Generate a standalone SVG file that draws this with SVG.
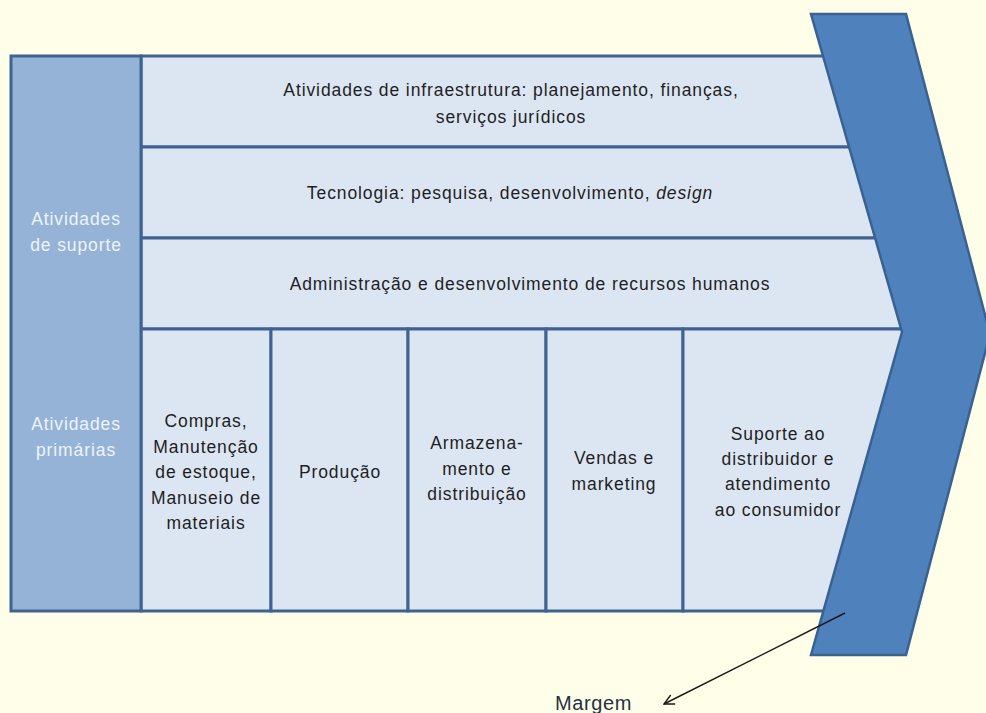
<svg xmlns="http://www.w3.org/2000/svg" width="986" height="713" viewBox="0 0 986 713">
<defs>
<style>
.cell{fill:#dce6f2;stroke:#3e6391;stroke-width:3}
.side{fill:#95b3d7;stroke:#3e6391;stroke-width:3}
.t{font-family:"Liberation Sans",Arial,sans-serif;font-size:17.5px;fill:#1e1e24;text-anchor:middle;letter-spacing:0.9px}
.w{fill:#eef3fa}
.conn{stroke:#1a1a1a;stroke-width:1.4;fill:none}
</style>
<clipPath id="body">
<polygon points="0,0 807,0 902,332 795,713 0,713"/>
</clipPath>
<marker id="arr" viewBox="0 0 12 12" refX="11" refY="6" markerWidth="12" markerHeight="12" markerUnits="userSpaceOnUse" orient="auto">
<path d="M1,1 L11,6 L1,11" fill="none" stroke="#1a1a1a" stroke-width="1.4"/>
</marker>
</defs>
<rect width="986" height="713" fill="#fffee9"/>
<g clip-path="url(#body)">
<g id="suporte-infra">
<rect class="cell" x="141" y="56" width="780" height="91"/>
<text class="t" x="511" y="96">Atividades de infraestrutura: planejamento, finanças,</text>
<text class="t" x="511" y="123">serviços jurídicos</text>
</g>
<g id="suporte-tecnologia">
<rect class="cell" x="141" y="147" width="780" height="91"/>
<text class="t" x="510" y="199">Tecnologia: pesquisa, desenvolvimento, <tspan font-style="italic">design</tspan></text>
</g>
<g id="suporte-rh">
<rect class="cell" x="141" y="238" width="780" height="91"/>
<text class="t" x="530" y="290">Administração e desenvolvimento de recursos humanos</text>
</g>
<g id="primaria-compras">
<rect class="cell" x="141" y="329" width="130" height="282"/>
<text class="t" x="206" y="427">Compras,</text>
<text class="t" x="206" y="453">Manutenção</text>
<text class="t" x="206" y="478">de estoque,</text>
<text class="t" x="206" y="504">Manuseio de</text>
<text class="t" x="206" y="529">materiais</text>
</g>
<g id="primaria-producao">
<rect class="cell" x="271" y="329" width="137" height="282"/>
<text class="t" x="340" y="478">Produção</text>
</g>
<g id="primaria-armazenamento">
<rect class="cell" x="408" y="329" width="138" height="282"/>
<text class="t" x="477" y="449">Armazena-</text>
<text class="t" x="477" y="475">mento e</text>
<text class="t" x="477" y="500">distribuição</text>
</g>
<g id="primaria-vendas">
<rect class="cell" x="546" y="329" width="137" height="282"/>
<text class="t" x="614" y="464">Vendas e</text>
<text class="t" x="614" y="490">marketing</text>
</g>
<g id="primaria-suporte">
<rect class="cell" x="683" y="329" width="240" height="282"/>
<text class="t" x="778" y="440">Suporte ao</text>
<text class="t" x="778" y="465">distribuidor e</text>
<text class="t" x="778" y="490">atendimento</text>
<text class="t" x="778" y="516">ao consumidor</text>
</g>
</g>
<g id="lateral">
<rect class="side" x="11" y="56" width="130" height="555"/>
<text class="t w" x="76" y="225">Atividades</text>
<text class="t w" x="76" y="251">de suporte</text>
<text class="t w" x="76" y="430">Atividades</text>
<text class="t w" x="76" y="456">primárias</text>
</g>
<g id="margem-chevron">
<path d="M811,14 L906,14 L990,334 L906,655 L811,655 L902,332 Z" fill="#4f81bd" stroke="#3a6291" stroke-width="2.5" stroke-linejoin="miter"/>
</g>
<g id="connectors">
<line class="conn" x1="845" y1="613" x2="664" y2="704" marker-end="url(#arr)"/>
</g>
<g id="margem-label">
<text x="555" y="710" style="font-family:'Liberation Sans',Arial,sans-serif;font-size:20px;fill:#263145;letter-spacing:0.6px">Margem</text>
</g>
</svg>
